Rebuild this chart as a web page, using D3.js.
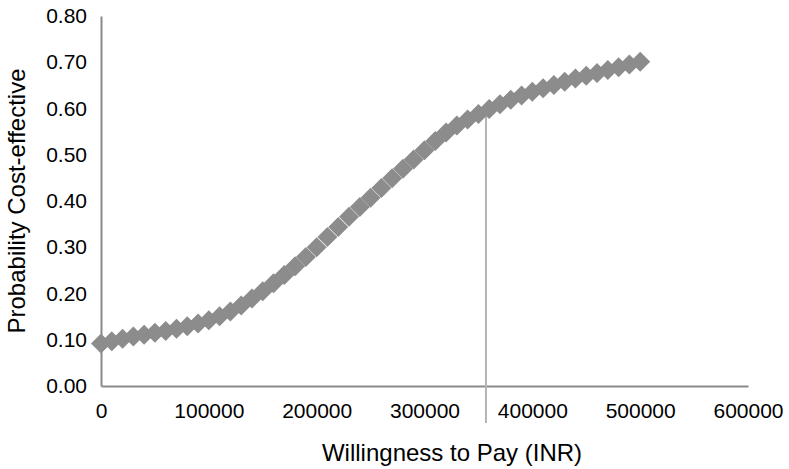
<!DOCTYPE html>
<html>
<head>
<meta charset="utf-8">
<script src="https://cdn.jsdelivr.net/npm/d3@7"></script>
<style>
  body { margin: 0; background: #fff; }
  text { font-family: "Liberation Sans", Arial, sans-serif; fill: #000; }
</style>
</head>
<body>
<script>
// willingness to pay steps (INR)
const wtp = d3.range(0, 500001, 10000);
// probability cost-effective
const prob = [
    0.092, 0.097, 0.102, 0.107, 0.111, 0.115, 0.119, 0.124, 0.129, 0.135,
    0.142, 0.151, 0.161, 0.174, 0.189, 0.205, 0.222, 0.240, 0.259, 0.279,
    0.300, 0.322, 0.344, 0.366, 0.387, 0.407, 0.428, 0.449, 0.470, 0.490,
    0.510, 0.530, 0.548, 0.563, 0.576, 0.588, 0.599, 0.609, 0.619, 0.628,
    0.636, 0.644, 0.651, 0.658, 0.665, 0.671, 0.677, 0.683, 0.689, 0.695,
    0.701
];
const xTicks = [0, 100000, 200000, 300000, 400000, 500000, 600000];
const yTicks = [0, 0.1, 0.2, 0.3, 0.4, 0.5, 0.6, 0.7, 0.8];
const threshold = 357000;
const thresholdTop = 0.60;

const width = 789;
const height = 469;
const margin = { left: 101, right: 41, top: 16, bottom: 83 };

const svg = d3.select("body").append("svg")
    .attr("width", width)
    .attr("height", height);

const x = d3.scaleLinear().domain([0, 600000]).range([margin.left, width - margin.right]);
const y = d3.scaleLinear().domain([0, 0.8]).range([height - margin.bottom, margin.top]);

// axes
const xAxis = svg.append("g")
    .attr("transform", `translate(0, ${y(0)})`)
    .call(d3.axisBottom(x).tickValues(xTicks).tickSize(0).tickPadding(17).tickFormat(d3.format("d")));
xAxis.select(".domain").attr("stroke", "#8a8a8a").attr("stroke-width", 2);
xAxis.selectAll("text").style("font-size", "21px").attr("fill", "#000");

const yAxis = svg.append("g")
    .attr("transform", `translate(${x(0)}, 0)`)
    .call(d3.axisLeft(y).tickValues(yTicks).tickSize(0).tickPadding(14).tickFormat(d3.format(".2f")));
yAxis.select(".domain").attr("stroke", "#8a8a8a").attr("stroke-width", 2);
yAxis.selectAll("text").style("font-size", "21px").attr("fill", "#000");

// threshold line
svg.append("line")
    .attr("x1", x(threshold)).attr("x2", x(threshold))
    .attr("y1", y(thresholdTop)).attr("y2", y(0) + 37)
    .attr("stroke", "#b4b4b4")
    .attr("stroke-width", 2);

// diamond markers
const pts = wtp.map((w, i) => ({ w: w, p: prob[i] }));
svg.append("g").selectAll("path")
    .data(pts)
    .enter()
    .append("path")
    .attr("transform", d => `translate(${x(d.w)}, ${y(d.p)})`)
    .attr("d", "M0,-10L10,0L0,10L-10,0Z")
    .attr("fill", "#8c8c8c");

// axis titles
svg.append("text")
    .attr("x", 452)
    .attr("y", 461)
    .attr("text-anchor", "middle")
    .style("font-size", "24px")
    .text("Willingness to Pay (INR)");

svg.append("text")
    .attr("transform", `translate(25, ${(y(0) + y(0.8)) / 2}) rotate(-90)`)
    .attr("text-anchor", "middle")
    .style("font-size", "24px")
    .text("Probability Cost-effective");
</script>
</body>
</html>
